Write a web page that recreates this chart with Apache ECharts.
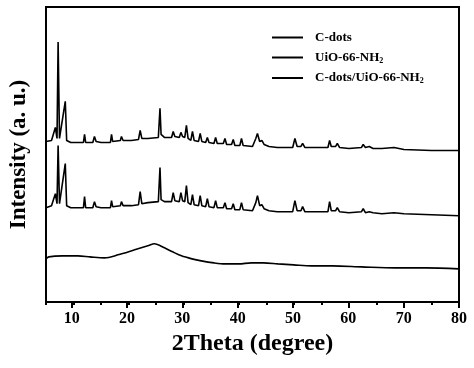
<!DOCTYPE html>
<html>
<head>
<meta charset="utf-8">
<script src="https://cdn.jsdelivr.net/npm/echarts@6/dist/echarts.min.js"></script>
<style>
  html, body { margin: 0; padding: 0; background: #fff; }
  #xrd { width: 474px; height: 368px; }
</style>
</head>
<body>
<div id="xrd"></div>
<script>
// legend names (bottom trace first)
var seriesNames = ['C-dots', 'UiO-66-NH2', 'C-dots/UiO-66-NH2'];
// x tick labels, every 5 degrees from 5 to 80
var tickLabels = ['5', '10', '15', '20', '25', '30', '35', '40', '45', '50', '55', '60', '65', '70', '75', '80'];

// C-dots: broad amorphous hump near 25 deg
var cdotsTrace = [
    [5.0, 43], [5.5, 45], [8.0, 46], [10.8, 46], [13.0, 45], [15.6, 44], [18.1, 47], [21.1, 52],
    [23.5, 56], [24.7, 58], [26.5, 54], [28.0, 50], [29.6, 46], [31.5, 43], [33.2, 41], [35.5, 39],
    [37.5, 38], [40.0, 38], [42.3, 39], [44.5, 39], [47.1, 38], [50.0, 37], [53.2, 36], [57.0, 36],
    [62.3, 35], [68.4, 34], [74.0, 34], [80.0, 33]
];

// UiO-66-NH2 (middle trace)
var uioTrace = [
    [5.0, 94], [6.0, 96], [6.7, 108], [7.0, 98], [7.2, 156], [7.45, 98], [7.8, 97], [8.5, 138], [8.75, 96],
    [9.5, 94], [10.5, 94], [11.8, 94], [12.0, 105], [12.2, 94], [13.5, 94], [13.8, 100], [14.1, 95],
    [15.0, 94], [16.7, 94], [16.9, 101], [17.1, 95], [18.5, 96], [18.7, 100], [19.0, 96], [20.5, 96],
    [21.8, 97], [22.1, 110], [22.4, 98], [23.5, 99], [25.4, 100], [25.7, 134], [25.9, 102], [26.5, 100],
    [27.8, 100], [28.1, 109], [28.4, 101], [29.2, 100], [29.5, 109], [29.8, 101], [30.2, 100], [30.5, 116],
    [30.8, 99], [31.3, 97], [31.6, 107], [31.9, 97], [32.7, 96], [33.0, 106], [33.3, 96], [34.0, 95],
    [34.3, 103], [34.6, 95], [35.5, 94], [35.8, 101], [36.1, 94], [37.2, 94], [37.5, 99], [37.8, 93],
    [38.7, 93], [39.0, 98], [39.3, 92], [40.2, 92], [40.5, 99], [40.8, 92], [42.5, 91], [43.1, 99],
    [43.4, 106], [43.8, 96], [44.2, 97], [44.6, 93], [45.5, 91], [47.0, 90], [49.8, 90], [50.2, 101],
    [50.6, 91], [51.3, 91], [51.6, 95], [52.0, 90], [54.0, 90], [56.2, 90], [56.5, 100], [56.8, 91],
    [57.6, 91], [57.9, 94], [58.3, 90], [60.0, 89], [62.3, 90], [62.6, 93], [63.0, 89], [63.7, 90],
    [64.0, 91], [64.4, 89], [66.0, 88], [68.2, 89], [70.0, 88], [75.0, 87], [80.0, 86]
];

// C-dots/UiO-66-NH2 (top trace)
var compositeTrace = [
    [5.0, 160], [6.0, 161], [6.7, 174], [7.0, 163], [7.2, 259], [7.45, 163], [7.8, 162], [8.5, 200], [8.75, 161],
    [9.5, 159], [10.5, 159], [11.8, 159], [12.0, 167], [12.2, 159], [13.5, 159], [13.8, 165], [14.1, 160],
    [15.0, 159], [16.7, 159], [16.9, 167], [17.1, 160], [18.5, 161], [18.7, 165], [19.0, 161], [20.5, 161],
    [21.8, 162], [22.1, 171], [22.4, 163], [23.5, 163], [25.4, 164], [25.7, 193], [25.9, 167], [26.5, 164],
    [27.8, 164], [28.1, 170], [28.4, 165], [29.2, 164], [29.5, 169], [29.8, 165], [30.2, 164], [30.5, 176],
    [30.8, 163], [31.3, 161], [31.6, 170], [31.9, 161], [32.7, 160], [33.0, 168], [33.3, 160], [34.0, 159],
    [34.3, 164], [34.6, 159], [35.5, 158], [35.8, 164], [36.1, 158], [37.2, 158], [37.5, 163], [37.8, 157],
    [38.7, 157], [39.0, 162], [39.3, 156], [40.2, 156], [40.5, 163], [40.8, 156], [42.5, 155], [43.1, 163],
    [43.4, 168], [43.8, 160], [44.2, 161], [44.6, 157], [45.5, 155], [47.0, 154], [49.8, 154], [50.2, 163],
    [50.6, 155], [51.3, 155], [51.6, 158], [52.0, 154], [54.0, 154], [56.2, 154], [56.5, 161], [56.8, 155],
    [57.6, 155], [57.9, 158], [58.3, 154], [60.0, 153], [62.3, 154], [62.6, 157], [63.0, 154], [63.7, 155],
    [64.0, 156], [64.4, 153], [66.0, 153], [68.2, 154], [70.0, 152], [75.0, 151], [80.0, 151]
];

var serif = '"Liberation Serif", "Times New Roman", serif';
var chart = echarts.init(document.getElementById('xrd'), null, {renderer: 'canvas'});

// gridRect shared by both grids (second one only carries the labelled 10-degree ticks)
var gridRect = {left: 44, right: 15, top: 7, bottom: 66};

function lineSeries(name, data, smooth) {
    return {
        name: name,
        type: 'line',
        xAxisIndex: 0,
        yAxisIndex: 0,
        data: data,
        showSymbol: false,
        smooth: smooth,
        silent: true,
        lineStyle: {color: '#000', width: 1.6},
        itemStyle: {color: '#000'}
    };
}

var option = {
    animation: false,
    backgroundColor: '#fff',
    grid: [
        Object.assign({show: true, borderColor: '#000', borderWidth: 2, backgroundColor: 'transparent'}, gridRect),
        Object.assign({show: false}, gridRect)
    ],
    legend: {
        orient: 'vertical',
        left: 267,
        top: 26,
        itemWidth: 31,
        itemHeight: 2,
        itemGap: 7,
        icon: 'rect',
        data: seriesNames,
        formatter: function (name) {
            if (name.slice(-3) === 'NH2') {
                return '{n|' + name.slice(0, -1) + '}{s|2}';
            }
            return '{n|' + name + '}';
        },
        textStyle: {
            padding: [0, 0, 0, 7],
            rich: {
                n: {fontFamily: serif, fontWeight: 'bold', fontSize: 13, color: '#000', lineHeight: 14},
                s: {fontFamily: serif, fontWeight: 'bold', fontSize: 8, color: '#000', verticalAlign: 'bottom', lineHeight: 8}
            }
        }
    },
    xAxis: [
        {
            type: 'value',
            gridIndex: 0,
            min: 5,
            max: 80,
            interval: 5,
            axisLine: {show: true, lineStyle: {color: '#000', width: 2}},
            axisTick: {show: true, length: 3, lineStyle: {color: '#000', width: 2}},
            axisLabel: {show: false},
            splitLine: {show: false},
            name: '2Theta (degree)',
            nameLocation: 'middle',
            nameGap: 30,
            nameTextStyle: {fontFamily: serif, fontWeight: 'bold', fontSize: 24, color: '#000'}
        },
        {
            type: 'category',
            gridIndex: 1,
            data: tickLabels,
            boundaryGap: false,
            axisLine: {show: false},
            axisTick: {
                show: true,
                length: 6,
                interval: function (index) { return index % 2 === 1; },
                lineStyle: {color: '#000', width: 2}
            },
            axisLabel: {
                show: true,
                margin: 9,
                interval: function (index) { return index % 2 === 1; },
                fontFamily: serif,
                fontWeight: 'bold',
                fontSize: 16,
                color: '#000'
            },
            splitLine: {show: false}
        }
    ],
    yAxis: [
        {
            type: 'value',
            gridIndex: 0,
            min: 0,
            max: 294,
            axisLine: {show: true, lineStyle: {color: '#000', width: 2}},
            axisTick: {show: false},
            axisLabel: {show: false},
            splitLine: {show: false},
            name: 'Intensity (a. u.)',
            nameLocation: 'middle',
            nameGap: 15,
            nameTextStyle: {fontFamily: serif, fontWeight: 'bold', fontSize: 23, color: '#000'}
        },
        {
            type: 'value',
            gridIndex: 1,
            show: false,
            min: 0,
            max: 1
        }
    ],
    series: [
        lineSeries(seriesNames[0], cdotsTrace, 0.3),
        lineSeries(seriesNames[1], uioTrace, false),
        lineSeries(seriesNames[2], compositeTrace, false)
    ]
};

chart.setOption(option);
</script>
</body>
</html>
